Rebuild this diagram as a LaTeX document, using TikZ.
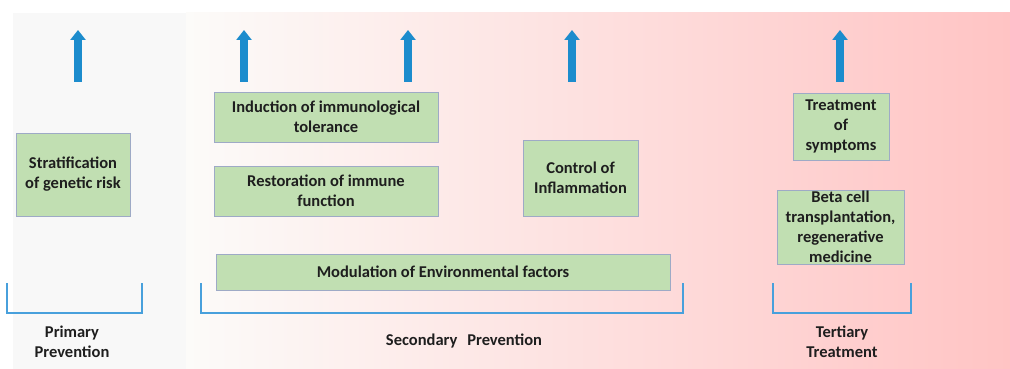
\documentclass[tikz,border=0pt]{standalone}
\usepackage{fontspec}
\setmainfont{Carlito}
\usetikzlibrary{arrows.meta}

\definecolor{boxgreen}{RGB}{193,223,178}
\definecolor{boxedge}{RGB}{158,170,198}
\definecolor{upblue}{RGB}{28,140,205}
\definecolor{brackblue}{RGB}{72,160,220}
\definecolor{bggray}{RGB}{248,248,248}
\definecolor{bgwhite}{RGB}{252,251,249}
\definecolor{bgpink}{RGB}{255,196,196}
\definecolor{inkdark}{RGB}{30,30,30}

\begin{document}
\begin{tikzpicture}[x=1pt,y=-1pt,
    stagebox/.style={draw=boxedge, fill=boxgreen, line width=0.9pt, align=center,
        inner sep=0pt, text=inkdark, font=\bfseries\fontsize{16.5}{20}\selectfont},
    upshaft/.style={upblue, line width=8pt, -{Triangle[width=15pt,length=10pt]}},
    bracket/.style={brackblue, line width=1.8pt},
    phase/.style={align=center, text=inkdark, font=\bfseries\fontsize{16.5}{20}\selectfont}]
    \useasboundingbox (0,0) rectangle (1010,369);
    % background bands
    \fill[bggray] (13,13) rectangle (186,369);
    \shade[left color=bgwhite, right color=bgpink] (186,13) rectangle (1010,369);

    % upward arrows
    \foreach \ax/\nm in {78/a, 244/b, 408/c, 572/d, 840/e} {
        \coordinate (foot\nm) at (\ax,82);
        \coordinate (tip\nm) at (\ax,30);
        \draw[upshaft] (foot\nm) -- (tip\nm);
    }

    % measures
    \node[stagebox, minimum width=114pt, minimum height=83pt] (strat) at (73,174.5) {Stratification\\of genetic risk};
    \node[stagebox, minimum width=224pt, minimum height=50pt] (induct) at (326,117) {Induction of immunological\\tolerance};
    \node[stagebox, minimum width=224pt, minimum height=50pt] (restore) at (326,191) {Restoration of immune\\function};
    \node[stagebox, minimum width=115pt, minimum height=76pt] (control) at (580.5,178) {Control of\\Inflammation};
    \node[stagebox, minimum width=454pt, minimum height=36pt] (modul) at (443,272) {Modulation of Environmental factors};
    \node[stagebox, minimum width=96pt, minimum height=67pt] (sympt) at (841,126.5) {Treatment\\of\\symptoms};
    \node[stagebox, minimum width=127pt, minimum height=74pt] (beta) at (840.5,227) {Beta cell\\transplantation,\\regenerative\\medicine};

    % brackets
    \draw[bracket] (7,283) |- (142,313) -- (142,283);
    \draw[bracket] (201,283) |- (683,313) -- (683,283);
    \draw[bracket] (773,283) |- (911,313) -- (911,283);

    % phase labels
    \node[phase] (primary) at (72,342) {Primary\\Prevention};
    \node[phase] (secondary) at (464,341) {Secondary\hspace{0.6em}Prevention};
    \node[phase] (tertiary) at (842,342) {Tertiary\\Treatment};
\end{tikzpicture}
\end{document}
